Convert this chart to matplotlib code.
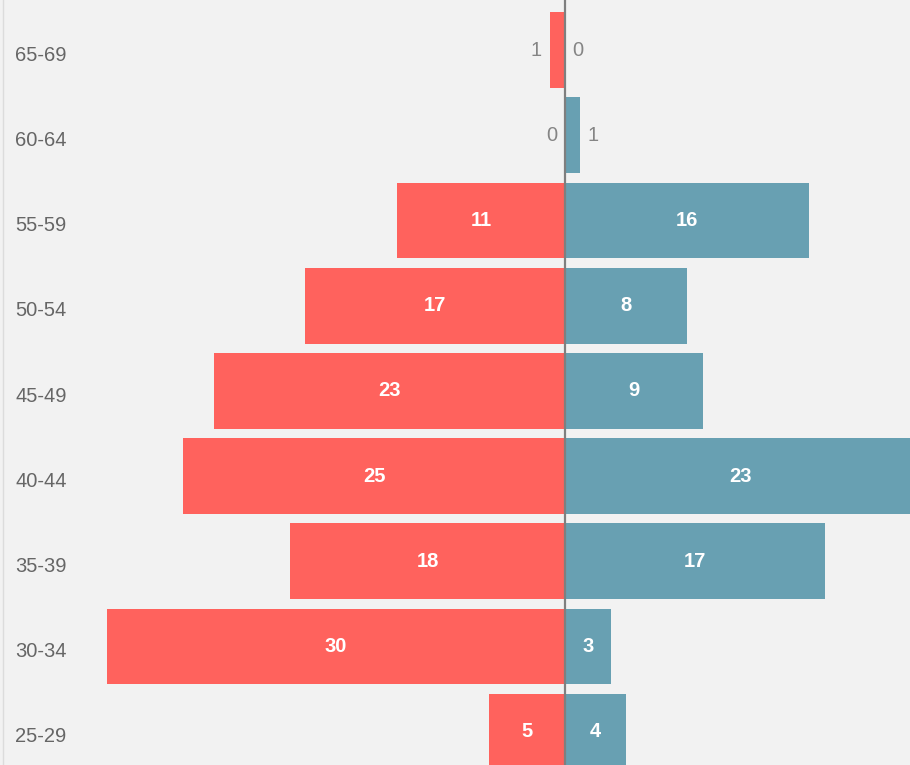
import matplotlib.pyplot as plt
from matplotlib.lines import Line2D
from matplotlib.transforms import blended_transform_factory, offset_copy

plt.rcParams['font.family'] = ['Liberation Sans', 'DejaVu Sans']

age_groups = ["65-69", "60-64", "55-59", "50-54", "45-49", "40-44", "35-39", "30-34", "25-29"]
left_vals = [1, 0, 11, 17, 23, 25, 18, 30, 5]
right_vals = [0, 1, 16, 8, 9, 23, 17, 3, 4]

red = "#ff625d"
teal = "#68a0b2"
bg = "#f2f2f2"

fig = plt.figure(figsize=(9.1, 7.65), dpi=100, facecolor=bg)
ax = fig.add_axes([0, 0, 1, 1])
ax.set_facecolor(bg)

ypos = list(range(len(age_groups)))
ax.barh(ypos, [-v for v in left_vals], height=0.89, color=red, linewidth=0)
ax.barh(ypos, right_vals, height=0.89, color=teal, linewidth=0)
ax.axvline(0, color="#7f7f7f", lw=1.6, zorder=3)

ax.set_xlim(-36.98, 22.58)
ax.set_ylim(8.39, -0.587)
ax.set_axis_off()

# bar labels
for y, lv, rv in zip(ypos, left_vals, right_vals):
    if lv >= 3:
        ax.text(-lv / 2, y, str(lv), ha="center", va="center", color="white",
                fontsize=14.5, fontweight="bold")
    else:
        tr = offset_copy(ax.transData, fig=fig, x=-8, y=0, units="dots")
        ax.text(-lv, y, str(lv), ha="right", va="center", color="#858585",
                fontsize=14.5, transform=tr)
    if rv >= 3:
        ax.text(rv / 2, y, str(rv), ha="center", va="center", color="white",
                fontsize=14.5, fontweight="bold")
    else:
        tr = offset_copy(ax.transData, fig=fig, x=7, y=0, units="dots")
        ax.text(rv, y, str(rv), ha="left", va="center", color="#858585",
                fontsize=14.5, transform=tr)

# category labels on the left
lab_tr = blended_transform_factory(ax.transAxes, ax.transData)
for y, name in zip(ypos, age_groups):
    ax.text(15 / 910, y + 0.06, name, ha="left", va="center", color="#666666",
            fontsize=14.5, transform=lab_tr)

fig.add_artist(Line2D([3 / 910, 3 / 910], [0, 1], color="#dcdcdc", lw=1))

fig.savefig("out.png", dpi=100, facecolor=bg)
